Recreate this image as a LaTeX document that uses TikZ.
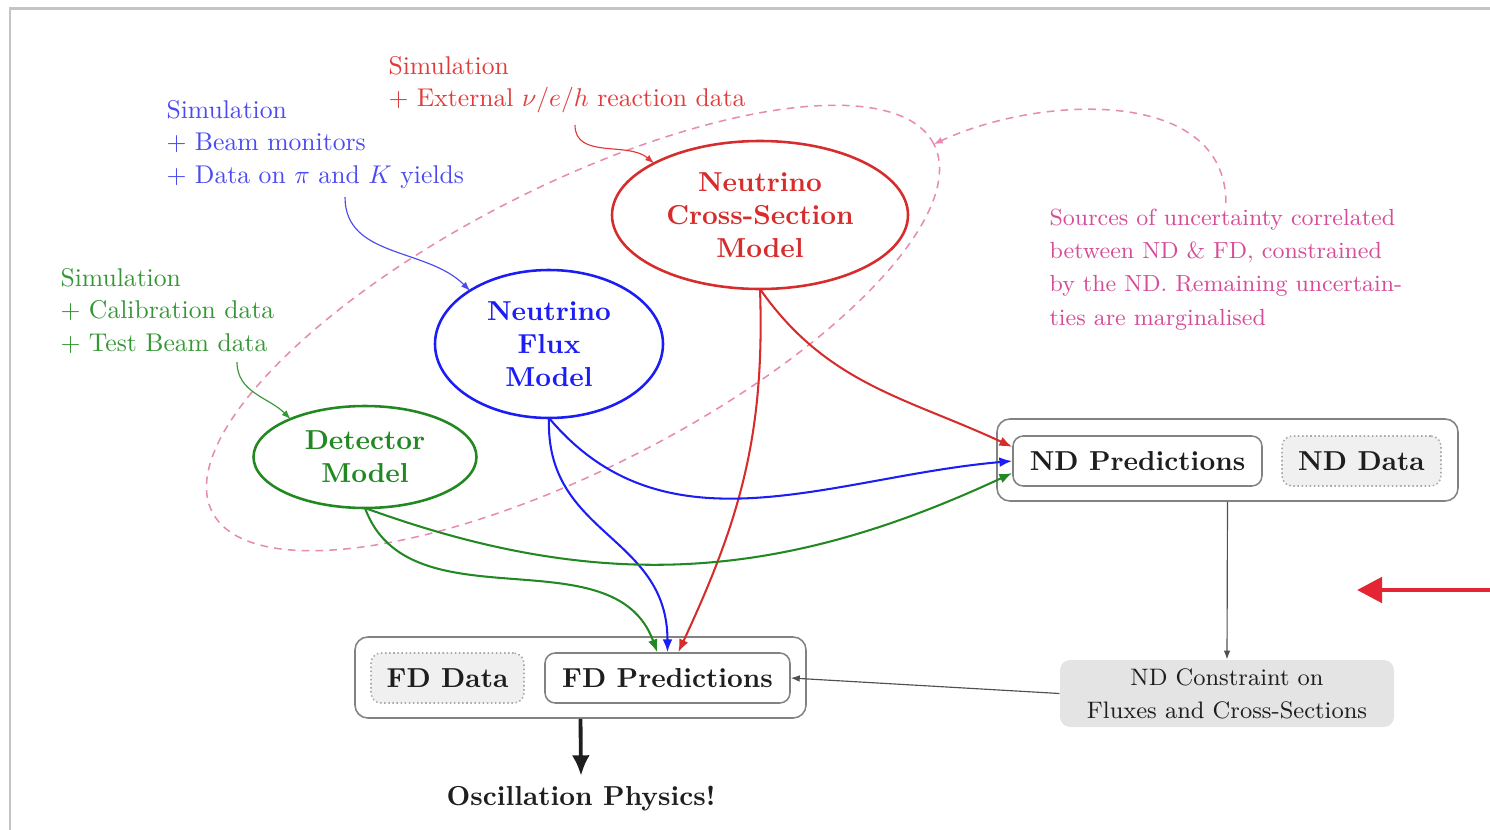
\documentclass[tikz,border=0pt]{standalone}
\usetikzlibrary{shapes.geometric,arrows.meta}
\definecolor{annred}{RGB}{226,58,58}
\definecolor{annblue}{RGB}{74,74,240}
\definecolor{anngreen}{RGB}{52,150,52}
\definecolor{modred}{RGB}{214,44,44}
\definecolor{modblue}{RGB}{28,28,245}
\definecolor{modgreen}{RGB}{34,136,34}
\definecolor{pinktext}{RGB}{214,76,152}
\definecolor{pinkline}{RGB}{230,140,180}
\definecolor{boxgray}{RGB}{130,130,130}
\definecolor{dotgray}{RGB}{170,170,170}
\definecolor{datafill}{RGB}{240,240,240}
\definecolor{confill}{RGB}{228,228,228}
\definecolor{framegray}{RGB}{196,196,196}
\definecolor{bigred}{RGB}{228,38,52}
\definecolor{darktext}{RGB}{30,30,30}
\definecolor{arrowgray}{RGB}{80,80,80}
\begin{document}
\begin{tikzpicture}[x=0.39pt,y=0.39pt,
  model/.style={ellipse, draw, line width=1pt, inner sep=0pt, outer sep=0pt, align=center,
    font=\fontsize{10.7}{12.9}\selectfont\bfseries},
  ann/.style={anchor=north west, inner sep=0pt, align=left, font=\fontsize{10}{12.6}\selectfont},
  outerbox/.style={rectangle, rounded corners=5pt, draw=boxgray, line width=0.6pt, inner sep=0pt, fill=white},
  predbox/.style={rectangle, rounded corners=4pt, draw=boxgray, line width=0.6pt, fill=white, inner sep=0pt,
    text=darktext, font=\fontsize{10.7}{12.9}\selectfont\bfseries},
  databox/.style={predbox, draw=dotgray, densely dotted, fill=datafill},
  flow/.style={line width=0.8pt, -{Latex[length=5pt,width=3.8pt]}},
  annarrow/.style={line width=0.45pt, -{Latex[length=3.5pt,width=2.6pt]}},
  grayarrow/.style={draw=arrowgray, line width=0.45pt, -{Latex[length=3.5pt,width=2.6pt]}},
  corrline/.style={draw=pinkline, line width=0.6pt, dash pattern=on 3pt off 2.4pt}
]
\useasboundingbox (0,0) rectangle (1490,-830);

% frame
\coordinate (f1) at (10,-830);
\coordinate (f2) at (10,-8.5);
\coordinate (f3) at (1490,-8.5);
\draw[framegray, line width=0.8pt] (f1) -- (f2) -- (f3);

% correlated-uncertainty region
\node[ellipse, corrline, minimum width=315.9pt, minimum height=110pt, rotate=27,
  inner sep=0pt, outer sep=0pt] (corr) at (573,-328) {};

% models
\node[model, draw=modred, text=modred, minimum width=115.44pt, minimum height=57.72pt]
  (xsec) at (760,-215) {Neutrino\\Cross-Section\\Model};
\node[model, draw=modblue, text=modblue, minimum width=88.92pt, minimum height=57.72pt]
  (flux) at (549,-344) {Neutrino\\Flux\\Model};
\node[model, draw=modgreen, text=modgreen, minimum width=86.97pt, minimum height=39.78pt]
  (det) at (365,-457) {Detector\\Model};

% annotations
\node[ann, text=annred] (xsecann) at (388,-56)
  {Simulation\\$+$ External $\nu/e/h$ reaction data};
\node[ann, text=annblue] (fluxann) at (166,-100)
  {Simulation\\$+$ Beam monitors\\$+$ Data on $\pi$ and $K$ yields};
\node[ann, text=anngreen] (detann) at (60,-268)
  {Simulation\\$+$ Calibration data\\$+$ Test Beam data};
\node[anchor=north west, inner sep=2pt, align=left, text=pinktext,
  font=\fontsize{9.1}{13}\selectfont] (corrtxt) at (1044,-203)
  {Sources of uncertainty correlated\\between ND \& FD, constrained\\by the ND. Remaining uncertain-\\ties are marginalised};

\coordinate (xa) at (575,-125);
\coordinate (fa) at (345,-197);
\coordinate (da) at (237,-362);
\draw[annarrow, annred] (xa) to[out=-90,in=140] (xsec.154);
\draw[annarrow, annblue] (fa) to[out=-90,in=135] (flux.146);
\draw[annarrow, anngreen] (da) to[out=-90,in=135] (det.153);
\draw[corrline, -{Latex[length=3.5pt,width=2.8pt]}] (corrtxt.north) to[out=90,in=25] (corr.east);

% ND boxes
\node[outerbox, minimum width=179.79pt, minimum height=31.98pt] (ndbox) at (1227.5,-460) {};
\node[predbox, minimum width=97.11pt, minimum height=19.5pt] (ndpred) at (1137.5,-461) {ND Predictions};
\node[databox, minimum width=62.01pt, minimum height=19.5pt] (nddata) at (1361.5,-461) {ND Data};

% FD boxes
\node[outerbox, minimum width=175.89pt, minimum height=31.59pt] (fdbox) at (580.5,-677.5) {};
\node[databox, minimum width=59.67pt, minimum height=19.5pt] (fddata) at (447.5,-678) {FD Data};
\node[predbox, minimum width=95.55pt, minimum height=19.5pt] (fdpred) at (667.5,-678) {FD Predictions};

% ND constraint
\node[rectangle, rounded corners=4pt, fill=confill, inner sep=0pt, align=center,
  minimum width=130.26pt, minimum height=26.13pt, text=darktext,
  font=\fontsize{9.3}{12.9}\selectfont] (ndcon) at (1227,-693.5)
  {ND Constraint on\\Fluxes and Cross-Sections};

% result
\node[inner sep=4pt, text=darktext, font=\fontsize{10.7}{12.9}\selectfont\bfseries] (osc) at (581,-799)
  {Oscillation Physics!};

% flows
\draw[flow, modred] (xsec.south) to[out=-55,in=155] ([yshift=5.5pt]ndpred.west);
\draw[flow, modred] (xsec.south) to[out=-88,in=65] ([xshift=4.2pt]fdpred.north);
\draw[flow, modblue] (flux.south) to[out=-50,in=185] (ndpred.west);
\draw[flow, modblue] (flux.south) to[out=-92,in=90,looseness=1.15] (fdpred.north);
\draw[flow, modgreen] (det.south) to[out=-20,in=205] ([yshift=-4.7pt]ndpred.west);
\draw[flow, modgreen] (det.south) to[out=-70,in=110] ([xshift=-4pt]fdpred.north);

\draw[grayarrow] (ndbox.south) -- (ndcon.north);
\draw[grayarrow] (ndcon.west) -- (fdpred.east);
\draw[line width=1.5pt, darktext, -{Latex[length=8pt,width=7pt]}] (fdbox.south) -- (osc.north);

% big red arrow entering from the right
\coordinate (ra1) at (1490,-590);
\coordinate (ra2) at (1357,-590);
\draw[bigred, line width=1.9pt, -{Triangle[length=9.75pt,width=9.75pt]}] (ra1) -- (ra2);
\end{tikzpicture}
\end{document}
